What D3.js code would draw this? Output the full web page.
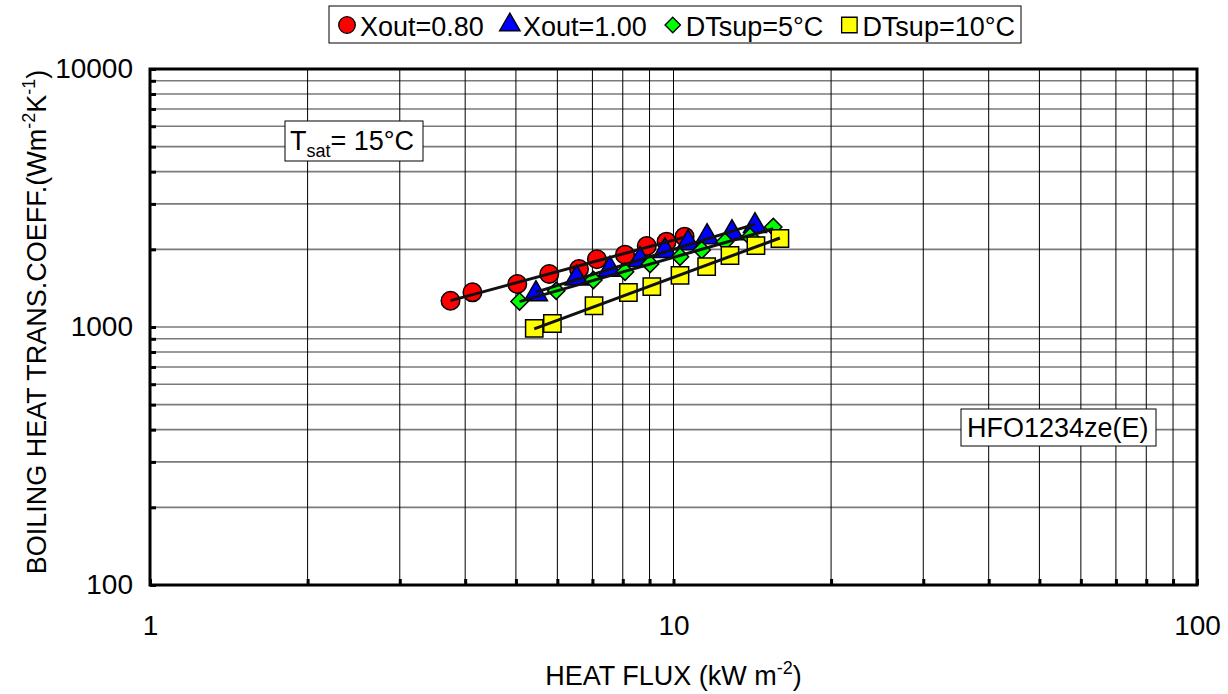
<!DOCTYPE html>
<html>
<head>
<meta charset="utf-8">
<script src="https://cdn.jsdelivr.net/npm/d3@7"></script>
<style>
  body { margin: 0; background: #fff; }
  svg text { font-family: "Liberation Sans", Arial, sans-serif; fill: #000; }
</style>
</head>
<body>
<svg id="chart" width="1228" height="694"></svg>
<script>

// heat flux (kW m-2) and boiling HTC (W m-2 K-1)
const xout080_q   = [3.75, 4.13, 5.03, 5.79, 6.60, 7.14, 8.08, 8.89, 9.70, 10.5];
const xout080_h   = [1264, 1363, 1468, 1605, 1678, 1830, 1907, 2061, 2141, 2239];

const xout100_q   = [5.46, 6.53, 7.56, 8.63, 9.63, 10.66, 11.59, 12.93, 14.31];
const xout100_h   = [1342, 1544, 1671, 1819, 1971, 2116, 2233, 2314, 2464];

const dtsup5_q    = [5.08, 5.97, 7.03, 8.08, 9.02, 10.29, 11.32, 12.54, 14.0, 15.51];
const dtsup5_h    = [1256, 1382, 1521, 1638, 1755, 1873, 1988, 2141, 2239, 2441];

const dtsup10_q   = [5.42, 5.87, 7.05, 8.20, 9.09, 10.29, 11.57, 12.82, 14.37, 15.97];
const dtsup10_h   = [988, 1032, 1209, 1361, 1433, 1584, 1713, 1893, 2066, 2203];

const seriesNames = ['Xout=0.80', 'Xout=1.00', 'DTsup=5°C', 'DTsup=10°C'];
const xTickLabels = [1, 10, 100];
const yTickLabels = [100, 1000, 10000];


const svg     = d3.select('#chart');
const margin  = { top: 69, right: 31, bottom: 109, left: 150 };
const width   = 1228 - margin.left - margin.right;
const height  = 694 - margin.top - margin.bottom;

const x = d3.scaleLog().domain([1, 100]).range([0, width]);
const y = d3.scaleLog().domain([100, 10000]).range([height, 0]);

const g = svg.append('g')
  .attr('transform', `translate(${margin.left},${margin.top})`);

// every 1..9 step of each decade
const minorOf = (lo, hi) => {
  const out = [];
  for (let d = lo; d < hi; d *= 10) {
    for (let k = 1; k <= 9; k++) out.push(d * k);
  }
  out.push(hi);
  return out;
};
const xAll = minorOf(1, 100);
const yAll = minorOf(100, 10000);

// grid
g.append('g').selectAll('line').data(yAll.slice(1, -1))
  .enter().append('line')
    .attr('x1', 0).attr('x2', width)
    .attr('y1', d => y(d)).attr('y2', d => y(d))
    .attr('stroke', '#7a7a7a')
    .attr('stroke-width', 1.6);

g.append('g').selectAll('line').data(xAll.slice(1, -1))
  .enter().append('line')
    .attr('x1', d => x(d)).attr('x2', d => x(d))
    .attr('y1', 0).attr('y2', height)
    .attr('stroke', '#000')
    .attr('stroke-width', 1);

// axes (ticks point inward)
const yAxis = d3.axisLeft(y)
  .tickValues(yAll)
  .tickSize(-6)
  .tickPadding(17)
  .tickFormat(d => yTickLabels.includes(d) ? d : '');

const xAxis = d3.axisBottom(x)
  .tickValues(xAll)
  .tickSize(-6)
  .tickPadding(30)
  .tickFormat(d => xTickLabels.includes(d) ? d : '');

const yAxisG = g.append('g').call(yAxis);
const xAxisG = g.append('g').attr('transform', `translate(0,${height})`).call(xAxis);

[yAxisG, xAxisG].forEach(a => {
  a.select('.domain').remove();
  a.selectAll('.tick line').attr('stroke', '#000').attr('stroke-width', 3);
  a.selectAll('.tick text')
    .style('font-family', '"Liberation Sans", Arial, sans-serif')
    .style('font-size', '28px');
});

// frame
g.append('rect')
  .attr('width', width).attr('height', height)
  .attr('fill', 'none')
  .attr('stroke', '#000')
  .attr('stroke-width', 3);


// series + markers
const symbols = [
  { type: d3.symbolCircle,   size: 270, fill: '#ff0000' },
  { type: d3.symbolTriangle, size: 230, fill: '#0000ff' },
  { type: d3.symbolDiamond2, size: 190, fill: '#00ff00' },
  { type: d3.symbolSquare,   size: 300, fill: '#ffff00' },
];

const series = [
  { q: xout080_q, h: xout080_h },
  { q: xout100_q, h: xout100_h },
  { q: dtsup5_q,  h: dtsup5_h },
  { q: dtsup10_q, h: dtsup10_h },
].map((s, i) => ({ ...s, sym: symbols[i], name: seriesNames[i],
  pts: s.q.map((q, j) => ({ q: q, h: s.h[j] })) }));

series.forEach(s => {
  g.append('g').selectAll('path').data(s.pts)
    .enter().append('path')
      .attr('transform', d => `translate(${x(d.q)},${y(d.h)})`)
      .attr('d', d3.symbol().type(s.sym.type).size(s.sym.size))
      .attr('fill', s.sym.fill)
      .attr('stroke', '#000')
      .attr('stroke-width', 1.5);
});

// power-law fit through each series
function fit(s) {
  const lx = s.q.map(Math.log10), ly = s.h.map(Math.log10);
  const mx = d3.mean(lx), my = d3.mean(ly);
  const b = d3.sum(lx, (v, i) => (v - mx) * (ly[i] - my)) / d3.sum(lx, v => (v - mx) * (v - mx));
  const a = my - b * mx;
  const f = q => Math.pow(10, a + b * Math.log10(q));
  const [q0, q1] = d3.extent(s.q);
  return [{ q: q0, h: f(q0) }, { q: q1, h: f(q1) }];
}

const line = d3.line().x(d => x(d.q)).y(d => y(d.h));

series.forEach(s => {
  g.append('path')
    .datum(fit(s))
    .attr('d', line)
    .attr('fill', 'none')
    .attr('stroke', '#111')
    .attr('stroke-width', 3);
});


// axis titles
const xTitle = svg.append('text')
  .attr('x', margin.left + width / 2)
  .attr('y', 685)
  .attr('text-anchor', 'middle')
  .style('font-size', '27px');
xTitle.append('tspan').text('HEAT FLUX (kW m');
xTitle.append('tspan').attr('dy', -11).style('font-size', '18px').text('-2');
xTitle.append('tspan').attr('dy', 11).text(')');

const yTitle = svg.append('text')
  .attr('transform', 'translate(46,322) rotate(-90)')
  .attr('text-anchor', 'middle')
  .style('font-size', '27px');
yTitle.append('tspan').text('BOILING HEAT TRANS.COEFF.(Wm');
yTitle.append('tspan').attr('dy', -11).style('font-size', '18px').text('-2');
yTitle.append('tspan').attr('dy', 11).text('K');
yTitle.append('tspan').attr('dy', -11).style('font-size', '18px').text('-1');
yTitle.append('tspan').attr('dy', 11).text(')');


// annotation boxes
function labelBox(x0, y0, w, h) {
  return svg.append('rect')
    .attr('x', x0).attr('y', y0).attr('width', w).attr('height', h)
    .attr('fill', '#fff').attr('stroke', '#000').attr('stroke-width', 1);
}

labelBox(285, 121, 138, 40);
const tsat = svg.append('text').attr('x', 290).attr('y', 150).style('font-size', '27px');
tsat.append('tspan').text('T');
tsat.append('tspan').attr('dy', 7).style('font-size', '18px').text('sat');
tsat.append('tspan').attr('dy', -7).text('= 15°C');

labelBox(961, 409, 195, 37);
svg.append('text').attr('x', 967).attr('y', 437).style('font-size', '27px').text('HFO1234ze(E)');


// legend
const legend = svg.append('g');
const legRect = legend.append('rect')
  .attr('y', 6).attr('height', 37)
  .attr('fill', '#fff').attr('stroke', '#000').attr('stroke-width', 1);

let lx = 338;
series.forEach(s => {
  legend.append('path')
    .attr('transform', `translate(${lx + 9},25)`)
    .attr('d', d3.symbol().type(s.sym.type).size(s.sym.size * 0.8))
    .attr('fill', s.sym.fill)
    .attr('stroke', '#000')
    .attr('stroke-width', 1.3);
  const t = legend.append('text')
    .attr('x', lx + 22).attr('y', 36)
    .style('font-size', '27px')
    .text(s.name);
  lx += 22 + t.node().getComputedTextLength() + 17;
});
legRect.attr('x', 329).attr('width', lx - 17 + 6 - 329);

</script>
</body>
</html>
